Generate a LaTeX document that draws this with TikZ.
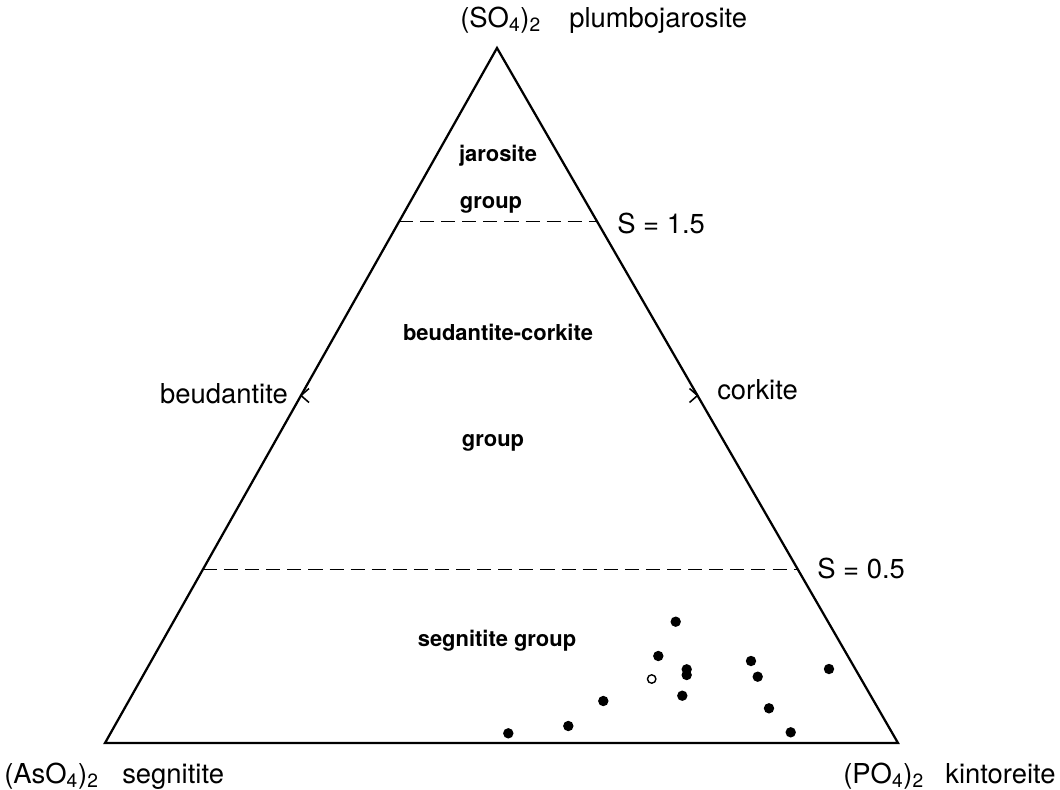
\documentclass[tikz,border=0pt]{standalone}
\usepackage{fontspec}
\setmainfont{TeX Gyre Heros}
\usetikzlibrary{calc}

\begin{document}
\begin{tikzpicture}[
        x=0.025cm, y=-0.025cm, >=latex,
        edge/.style={line width=1.6pt, line join=miter},
        bound/.style={line width=1pt, dash pattern=on 10pt off 5pt},
        lbl/.style={inner sep=0pt, anchor=base west, font=\fontsize{19.5}{23}\selectfont},
        grp/.style={inner sep=0pt, anchor=base, font=\fontsize{15.6}{19}\selectfont\bfseries},
    ]
    \useasboundingbox (0,0) rectangle (1060,790);

    \coordinate (As) at (105,743);
    \coordinate (P)  at (898,743);
    \coordinate (S)  at (497,48);

    \draw[edge] (As) -- (P) -- (S) -- cycle;

    \coordinate (s15l) at ($(As)!0.75!(S)$);
    \coordinate (s15r) at ($(P)!0.75!(S)$);
    \coordinate (s05l) at ($(As)!0.25!(S)$);
    \coordinate (s05r) at ($(P)!0.25!(S)$);
    \draw[bound] (s15l) -- (s15r);
    \draw[bound] (s05l) -- (s05r);

    \coordinate (beu) at ($(As)!0.5!(S)$);
    \coordinate (cor) at ($(P)!0.5!(S)$);
    \draw[line width=1.1pt] ($(beu)+(8,-7)$) -- (beu) -- ($(beu)+(8,7)$);
    \draw[line width=1.1pt] ($(cor)+(-8,-7)$) -- (cor) -- ($(cor)+(-8,7)$);

    \node[lbl] (so4) at (460,27) {(SO\textsubscript{4})\textsubscript{2}};
    \node[lbl] (plumbo) at (569,27) {plumbojarosite};
    \node[lbl] (aso4) at (4,783) {(AsO\textsubscript{4})\textsubscript{2}};
    \node[lbl] (segn) at (122,783) {segnitite};
    \node[lbl] (po4) at (843,783) {(PO\textsubscript{4})\textsubscript{2}};
    \node[lbl] (kint) at (945,783) {kintoreite};
    \node[lbl, anchor=base east] (beud) at (288,403) {beudantite};
    \node[lbl] (cork) at (717,399) {corkite};
    \node[lbl] (s15) at (617,233) {S = 1.5};
    \node[lbl] (s05) at (817,578) {S = 0.5};

    \node[grp] (jaro) at (498,161) {jarosite};
    \node[grp] (jarogrp) at (491,208) {group};
    \node[grp] (bc) at (498,340) {beudantite-corkite};
    \node[grp] (bcgrp) at (493,446) {group};
    \node[grp] (seggrp) at (497,646) {segnitite group};

    \foreach \x/\y in {675.7/621.7, 658.3/656, 686.7/669.3, 686.7/675,
                       682.3/695.7, 603.3/701, 568.3/726, 508.3/733.3,
                       751/661, 757.7/676.7, 769/708.3, 829/669, 790.7/732.3}
        \fill (\x,\y) circle (3.7pt);
    \draw[line width=1pt] (651.7,679) circle (3pt);

\end{tikzpicture}
\end{document}
